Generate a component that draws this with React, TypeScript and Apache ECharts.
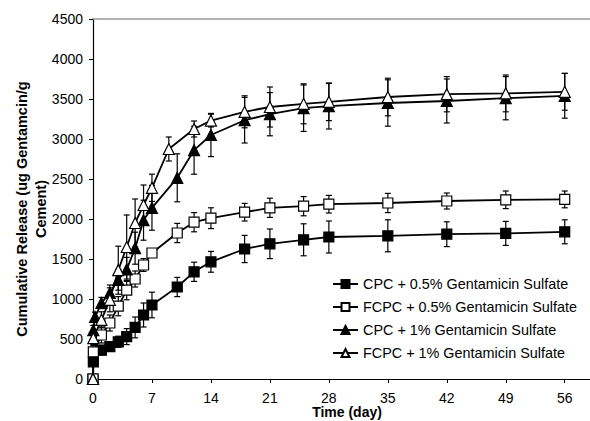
import React, { useEffect, useRef } from "react";
import * as echarts from "echarts";

const xTicks = [0, 7, 14, 21, 28, 35, 42, 49, 56];

const names = [
  "CPC + 0.5% Gentamicin Sulfate",
  "FCPC + 0.5% Gentamicin Sulfate",
  "CPC + 1% Gentamicin Sulfate",
  "FCPC + 1% Gentamicin Sulfate",
];

const cpc05Days = [0, 0.04, 1, 2, 3, 4, 5, 6, 7, 10, 12, 14, 18, 21, 25, 28, 35, 42, 49, 56];
const cpc05Vals = [0, 215, 360, 405, 465, 530, 645, 800, 925, 1150, 1340, 1465, 1625, 1690, 1740, 1775, 1790, 1810, 1820, 1840];
const cpc05Err = [0, 50, 60, 60, 70, 100, 130, 150, 160, 120, 120, 130, 170, 185, 200, 200, 200, 155, 150, 150];

const fcpc05Days = [0, 0.04, 1, 2, 3, 4, 5, 6, 7, 10, 12, 14, 18, 21, 25, 28, 35, 42, 49, 56];
const fcpc05Vals = [0, 340, 550, 700, 910, 1110, 1250, 1425, 1575, 1825, 1960, 2010, 2085, 2140, 2160, 2185, 2200, 2225, 2240, 2245];
const fcpc05Err = [0, 80, 100, 100, 120, 120, 100, 80, 40, 120, 120, 130, 110, 120, 120, 110, 120, 100, 110, 105];

const cpc1Days = [0, 0.04, 0.25, 1, 2, 3, 4, 5, 6, 7, 10, 12, 14, 18, 21, 25, 28, 35, 42, 49, 56];
const cpc1Vals = [0, 610, 775, 950, 1075, 1240, 1370, 1635, 1985, 2140, 2515, 2860, 3050, 3235, 3310, 3385, 3410, 3450, 3475, 3510, 3540];
const cpc1Err = [0, 60, 60, 70, 100, 130, 150, 200, 250, 280, 300, 300, 270, 285, 270, 290, 285, 290, 275, 270, 280];

const fcpc1Days = [0, 0.04, 1, 2, 3, 4, 5, 6, 7, 9, 12, 14, 18, 21, 25, 28, 35, 42, 49, 56];
const fcpc1Vals = [0, 510, 740, 990, 1360, 1650, 1950, 2175, 2390, 2875, 3125, 3230, 3340, 3400, 3440, 3465, 3525, 3560, 3570, 3590];
const fcpc1Err = [0, 80, 100, 150, 300, 400, 300, 250, 170, 150, 100, 80, 200, 250, 250, 235, 235, 220, 230, 230];

const FONT = "'Liberation Sans', Arial, sans-serif";

function pairs(days: number[], vals: number[]) {
  return days.map((d, i) => [d, vals[i]]);
}
function triples(days: number[], vals: number[], errs: number[]) {
  return days.map((d, i) => [d, vals[i], errs[i]]);
}

function errorSeries(data: number[][]) {
  return {
    type: "custom",
    silent: true,
    z: 1,
    data,
    renderItem: (params: any, api: any) => {
      const x = api.value(0);
      const y = api.value(1);
      const e = api.value(2);
      if (!e) return null;
      const top = api.coord([x, y + e]);
      const bot = api.coord([x, y - e]);
      const w = 3;
      const style = { stroke: "#000", lineWidth: 1.2 };
      return {
        type: "group",
        children: [
          { type: "line", shape: { x1: top[0], y1: top[1], x2: bot[0], y2: bot[1] }, style },
          { type: "line", shape: { x1: top[0] - w, y1: top[1], x2: top[0] + w, y2: top[1] }, style },
          { type: "line", shape: { x1: bot[0] - w, y1: bot[1], x2: bot[0] + w, y2: bot[1] }, style },
        ],
      };
    },
  };
}

function lineSeries(name: string, data: number[][], symbol: string, filled: boolean, size: number) {
  return {
    type: "line",
    name,
    data,
    z: 3,
    symbol,
    symbolSize: size,
    showAllSymbol: true,
    lineStyle: { color: "#000", width: 1.8 },
    itemStyle: { color: filled ? "#000" : "#fff", borderColor: "#000", borderWidth: 1.2 },
    emphasis: { disabled: true },
  };
}

const triPath = "path://M5,0 L10,9 L0,9 Z";

export default function App() {
  const ref = useRef<HTMLDivElement>(null);
  useEffect(() => {
    if (!ref.current) return;
    const chart = echarts.init(ref.current, undefined, { renderer: "svg" });
    chart.setOption({
      animation: false,
      backgroundColor: "#fff",
      textStyle: { fontFamily: FONT },
      grid: { left: 93, right: 0, top: 19, bottom: 42, containLabel: false, outerBoundsMode: "none" },
      legend: {
        orient: "vertical",
        left: 332,
        top: 277,
        padding: 0,
        itemWidth: 25,
        itemHeight: 10,
        itemGap: 9,
        data: names,
        textStyle: { fontSize: 14.4, color: "#000", fontFamily: FONT },
      },
      xAxis: [
        {
          type: "value",
          min: 0,
          max: 59,
          name: "Time (day)",
          nameLocation: "middle",
          nameGap: 26,
          nameMoveOverlap: false,
          nameTextStyle: {
            fontSize: 14,
            lineHeight: 14,
            fontWeight: "bold",
            color: "#000",
            fontFamily: FONT,
            padding: [0, 0, 0, 11],
          },
          axisLine: { show: true, onZero: false, lineStyle: { color: "#000", width: 1.2 } },
          axisTick: { show: true, inside: false, length: 4, customValues: xTicks, lineStyle: { color: "#000" } },
          axisLabel: { customValues: xTicks, fontSize: 14, lineHeight: 14, color: "#000", margin: 12, fontFamily: FONT },
          splitLine: { show: false },
        },
        {
          type: "value",
          position: "top",
          min: 0,
          max: 59,
          axisLine: { show: true, onZero: false, lineStyle: { color: "#999", width: 1.5 } },
          axisTick: { show: false },
          axisLabel: { show: false },
          splitLine: { show: false },
        },
      ],
      yAxis: {
        type: "value",
        min: 0,
        max: 4500,
        interval: 500,
        name: "Cumulative Release (ug Gentamcin/g\nCement)",
        nameLocation: "middle",
        nameGap: 43,
        nameMoveOverlap: false,
        nameRotate: 90,
        nameTextStyle: {
          fontSize: 14.5,
          fontWeight: "bold",
          color: "#000",
          fontFamily: FONT,
          lineHeight: 19,
          align: "center",
          padding: [0, 20, 0, 0],
        },
        axisLine: { show: true, lineStyle: { color: "#000", width: 1.2 } },
        axisTick: { show: true, inside: false, length: 4, lineStyle: { color: "#000" } },
        axisLabel: { fontSize: 14, color: "#000", margin: 10, fontFamily: FONT, formatter: (v: number) => String(v) },
        splitLine: { show: false },
      },
      series: [
        errorSeries(triples(cpc05Days, cpc05Vals, cpc05Err)),
        errorSeries(triples(fcpc05Days, fcpc05Vals, fcpc05Err)),
        errorSeries(triples(cpc1Days, cpc1Vals, cpc1Err)),
        errorSeries(triples(fcpc1Days, fcpc1Vals, fcpc1Err)),
        lineSeries(names[0], pairs(cpc05Days, cpc05Vals), "rect", true, 10),
        lineSeries(names[1], pairs(fcpc05Days, fcpc05Vals), "rect", false, 10),
        lineSeries(names[2], pairs(cpc1Days, cpc1Vals), triPath, true, 11),
        lineSeries(names[3], pairs(fcpc1Days, fcpc1Vals), triPath, false, 11),
      ],
    });
    return () => chart.dispose();
  }, []);
  return <div ref={ref} style={{ width: 590, height: 421, position: "absolute", left: 0, top: 0 }} />;
}
